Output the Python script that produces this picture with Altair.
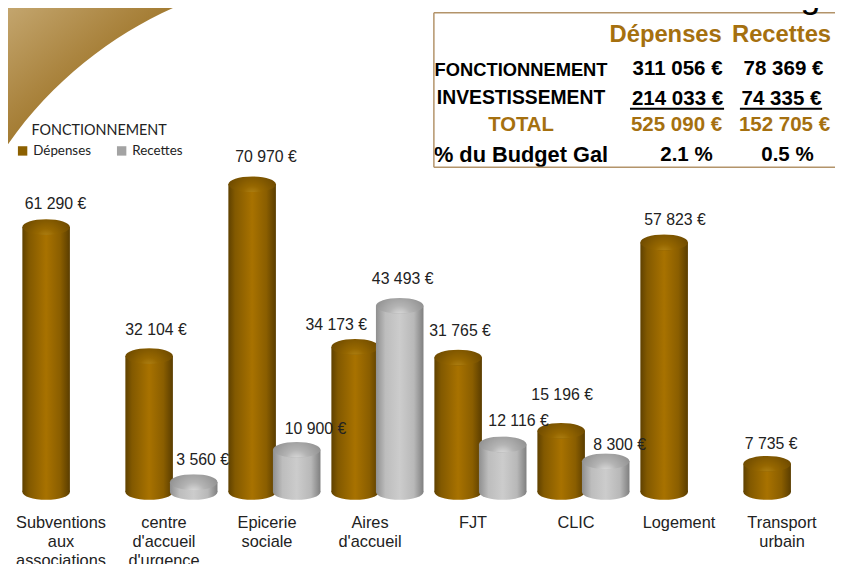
import altair as alt
import pandas as pd

ARIAL = "Liberation Sans"
categories = ["Subventions|aux|associations", "centre|d'accueil|d'urgence", "Epicerie|sociale",
              "Aires|d'accueil", "FJT", "CLIC", "Logement", "Transport|urbain"]
depenses = [61290, 32104, 70970, 34173, 31765, 15196, 57823, 7735]
recettes = [None, 3560, 10900, 43493, 12116, 8300, None, None]
series_names = ["Dépenses", "Recettes"]
cylinder_floor = 1340

rows = []
for c, d, r in zip(categories, depenses, recettes):
    rows.append({"cat": c, "serie": "Dépenses", "value": d})
    if r is not None:
        rows.append({"cat": c, "serie": "Recettes", "value": r})
df = pd.DataFrame(rows)
df["floor"] = cylinder_floor
df["label"] = df["value"].map(lambda v: f"{v:,}".replace(",", " ") + " €")

# label nudges (the original labels were moved by hand): (dx, dy) from the cylinder top
nudges = {
    61290: (9.5, -23), 32104: (7, -26), 70970: (14, -28), 34173: (-19, -22), 31765: (2, -27),
    15196: (1, -36), 57823: (11, -23), 7735: (4, -19.5),
    3560: (9, -22), 10900: (19, -21), 43493: (3, -27), 12116: (16, -24), 8300: (14, -16),
}

def stops(cols):
    return [alt.GradientStop(offset=o, color=c) for o, c in cols]

body = {
    "Dépenses": stops([(0, "#5f4100"), (0.14, "#825900"), (0.5, "#a87200"), (0.8, "#8a5e00"), (1, "#5a3d00")]),
    "Recettes": stops([(0, "#8f8f8f"), (0.2, "#bdbdbd"), (0.5, "#cccccc"), (0.8, "#b8b8b8"), (1, "#7f7f7f")]),
}
cap = {
    "Dépenses": stops([(0, "#b88a1a"), (0.35, "#966700"), (1, "#684600")]),
    "Recettes": stops([(0, "#e6e6e6"), (0.4, "#b4b4b4"), (1, "#8c8c8c")]),
}

def hgrad(s):
    return alt.LinearGradient(gradient="linear", x1=0, y1=0, x2=1, y2=0, stops=s)

def rgrad(s):
    return alt.RadialGradient(gradient="radial", x1=0.5, y1=0.75, r1=0, x2=0.5, y2=0.75, r2=0.62, stops=s)

ELLIPSE = "M -1 0 A 1 0.33 0 1 1 1 0 A 1 0.33 0 1 1 -1 0 Z"
BAR_W = 48

x = alt.X("cat:N", sort=categories, title=None,
          scale=alt.Scale(domain=categories, range=[9, 841], paddingInner=14/104, paddingOuter=7/104),
          axis=alt.Axis(domain=False, ticks=False, labelAngle=0, labelOffset=-7.5, labelPadding=4,
                        labelExpr="split(datum.label, '|')", labelFont=ARIAL, labelFontSize=16.5,
                        labelColor="#222222", labelLineHeight=19, labelLimit=200, grid=False,
                        labelBaseline="top", labelOverlap=False))
xo = alt.XOffset("serie:N", scale=alt.Scale(domain=series_names, paddingInner=0, paddingOuter=0))
y = alt.Y("value:Q", title=None, axis=None, scale=alt.Scale(domain=[0, 80000], range=[492, 135]))
yfloor = alt.Y("floor:Q", title=None, axis=None, scale=alt.Scale(domain=[0, 80000], range=[492, 135]))

base = alt.Chart(df)
layers = []

# swoosh in the top-left corner of the slide
corner = alt.Chart(pd.DataFrame({"k": [0]})).mark_point(
    filled=True, opacity=1, strokeWidth=0, size=4,
    shape="M -8 -8 L 179 -8 C 110 20 40 72 -8 147 Z",
    fill=alt.LinearGradient(gradient="linear", x1=0, y1=0, x2=0.75, y2=0.75,
                            stops=stops([(0, "#c6a973"), (0.5, "#ab8540"), (1, "#8f6410")])),
).encode(x=alt.value(0), y=alt.value(0))
layers.append(corner)

legend_layer = base.mark_square(size=1, opacity=1).encode(
    x=x, xOffset=xo, y=y,
    color=alt.Color("serie:N", scale=alt.Scale(domain=series_names, range=["#8c6000", "#a3a3a3"]),
                    legend=alt.Legend(title="FONCTIONNEMENT", orient="none", legendX=8, legendY=115,
                                      direction="horizontal", columns=2, columnPadding=24,
                                      symbolType="square", symbolSize=90, symbolStrokeWidth=0, symbolOpacity=1,
                                      labelFont="Lato", labelFontSize=13.5, labelColor="#222222",
                                      titleFont="Lato", titleFontSize=14.5, titleFontWeight="normal",
                                      titleColor="#222222", titleAnchor="middle", titlePadding=5,
                                      labelOffset=4)),
)
layers.append(legend_layer)

for s in series_names:
    d = base.transform_filter(alt.datum.serie == s)
    layers.append(d.mark_point(filled=True, opacity=1, strokeWidth=0, shape=ELLIPSE, size=BAR_W**2,
                               fill=hgrad(body[s])).encode(x=x, xOffset=xo, y=yfloor))
    layers.append(d.mark_bar(size=BAR_W, fill=hgrad(body[s]), strokeWidth=0).encode(
        x=x, xOffset=xo, y=y, y2="floor:Q"))
    layers.append(d.mark_point(filled=True, opacity=1, strokeWidth=0, shape=ELLIPSE, size=BAR_W**2,
                               fill=rgrad(cap[s])).encode(x=x, xOffset=xo, y=y))

for v, (dx, dy) in nudges.items():
    layers.append(base.transform_filter(alt.datum.value == v).mark_text(
        font=ARIAL, fontSize=16, color="#222222", dx=dx, dy=dy, baseline="middle", align="center"
    ).encode(x=x, xOffset=xo, y=y, text="label:N"))

# summary table
GOLD = "#a5700f"
table_rows = [
    ("Dépenses", 672, 33, 24, GOLD), ("Recettes", 789, 33, 24, GOLD),
    ("FONCTIONNEMENT", 526, 68, 18.5, "#000000"), ("311 056 €", 684, 67, 20.7, "#000000"), ("78 369 €", 791, 67, 20.7, "#000000"),
    ("INVESTISSEMENT", 526, 96, 19.5, "#000000"), ("214 033 €", 684, 97, 20.7, "#000000"), ("74 335 €", 789, 97, 20.7, "#000000"),
    ("TOTAL", 526, 123, 20.5, GOLD), ("525 090 €", 683, 123, 20.7, GOLD), ("152 705 €", 792, 123, 20.7, GOLD),
    ("% du Budget Gal", 526, 154, 22, "#000000"), ("2.1 %", 693, 154, 20.7, "#000000"), ("0.5 %", 795, 154, 20.7, "#000000"),
]
one = alt.Chart(pd.DataFrame({"k": [0]}))
for t, px, py, fs, col in table_rows:
    layers.append(one.mark_text(text=t, font=ARIAL, fontWeight="bold", fontSize=fs, color=col,
                                align="center", baseline="middle").encode(
        x=alt.value(px - 8), y=alt.value(py - 8)))
for x1, x2, y1, wt, col in [(438, 843, 10, 1.5, "#b3946a"), (438, 843, 166, 1.5, "#b3946a"),
                            (636, 731, 107, 2, "#000000"), (747, 830, 107, 2, "#000000")]:
    layers.append(one.mark_rule(strokeWidth=wt, color=col).encode(
        x=alt.value(x1 - 8), x2=alt.value(x2 - 8), y=alt.value(y1 - 8)))
layers.append(one.mark_rule(strokeWidth=1.5, color="#b3946a").encode(
    x=alt.value(438 - 8), y=alt.value(10 - 8), y2=alt.value(166 - 8)))

# slide title, cropped by the top of the picture in the reference
layers.append(one.mark_text(text="2 – Solidarité Logement", font=ARIAL, fontSize=36, color="#000000",
                            align="left", baseline="alphabetic").encode(
    x=alt.value(548 - 8), y=alt.value(5 - 8)))

chart = alt.layer(*layers).properties(
    width=835, height=505,
    padding={"left": 0, "top": 0, "right": 0, "bottom": 51},
    autosize=alt.AutoSizeParams(type="none"),
).configure_view(stroke=None).configure(background="white") if False else alt.layer(*layers).properties(
    width=835, height=505,
    padding={"left": 0, "top": 0, "right": 0, "bottom": 51},
    autosize=alt.AutoSizeParams(type="none"),
).configure_view(stroke=None)

chart.save("out.html", embed_options={"renderer": "svg", "actions": False})
